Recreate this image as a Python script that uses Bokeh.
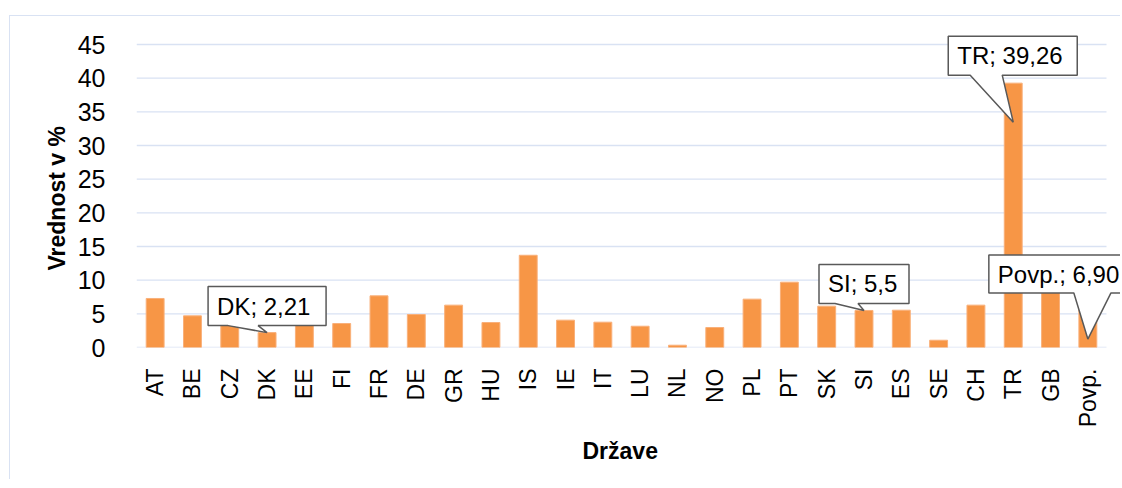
import math
from bokeh.plotting import figure
from bokeh.models import Range1d, FixedTicker, Title
from bokeh.core.properties import value
from bokeh.embed import file_html
from bokeh.resources import INLINE

# ---------------- data ----------------
countries = ["AT", "BE", "CZ", "DK", "EE", "FI", "FR", "DE", "GR", "HU", "IS", "IE", "IT",
             "LU", "NL", "NO", "PL", "PT", "SK", "SI", "ES", "SE", "CH", "TR", "GB", "Povp."]
values = [7.28, 4.70, 3.80, 2.21, 3.70, 3.56, 7.67, 4.90, 6.29, 3.71, 13.70, 4.06, 3.76,
          3.16, 0.34, 2.97, 7.18, 9.70, 6.14, 5.50, 5.54, 1.08, 6.29, 39.26, 10.00, 6.90]
y_ticks = [0, 5, 10, 15, 20, 25, 30, 35, 40, 45]
callout_cats = ["DK", "SI", "TR", "Povp."]
callout_texts = ["DK; 2,21", "SI; 5,5", "TR; 39,26", "Povp.; 6,90"]
x_title = "Države"
y_title = "Vrednost v %"

# ---------------- layout (pixels) ----------------
FONT = "Liberation Sans"
W, H = 1111, 464
LEFT, BOTTOM = 126, 133
FRAME_W, FRAME_H = W - LEFT, H - BOTTOM
PX_X = 970 / len(countries)      # px per category
PX_Y = 303 / 45.0                # px per unit
GRID = "#D9E2F3"
BAR = "#F79646"

# callout geometry: box left, right, top, bottom; pointer base x1, x2; tip dx, dy (px, y down, rel. to bar top)
callout_geom = [
    (-59, 59, -46, -7, -39, -9, 0, 0),
    (-45, 45, -46, -7, -29, -6, 0, 0),
    (-65, 64, -47, -8, -43, -11, 0, 39),
    (-99, 60, -46, -8, -14, 23, 0, 38),
]

x_end = FRAME_W / PX_X
y_end = FRAME_H / PX_Y

p = figure(width=W, height=H, output_backend="svg", toolbar_location=None,
           x_range=Range1d(0, x_end), y_range=Range1d(0, y_end),
           min_border_left=LEFT, min_border_right=0, min_border_top=0,
           min_border_bottom=BOTTOM)
p.styles = {"margin-left": "9px", "margin-top": "15px",
            "border-left": "1px solid #D9E2F3", "border-top": "1px solid #D9E2F3"}
p.outline_line_color = None
p.xgrid.visible = False
p.ygrid.visible = False
p.background_fill_color = "white"
p.border_fill_color = "white"

xs = [i + 0.5 for i in range(len(countries))]
n = len(countries)

# gridlines (stop at end of the categories)
p.segment(x0=[0] * len(y_ticks), x1=[n] * len(y_ticks), y0=y_ticks, y1=y_ticks,
          line_color=GRID, line_width=1.3)

# bars
p.vbar(x=xs, top=values, width=0.48, fill_color=BAR, line_color="#F9B07A", line_width=1)

# axes
p.yaxis.ticker = FixedTicker(ticks=y_ticks)
p.yaxis.axis_line_color = None
p.yaxis.major_tick_line_color = None
p.yaxis.minor_tick_line_color = None
p.yaxis.major_label_standoff = 25
p.yaxis.major_label_text_font = FONT
p.yaxis.major_label_text_font_size = "25px"
p.yaxis.major_label_text_color = "#000000"

p.xaxis.ticker = FixedTicker(ticks=xs)
p.xaxis.major_label_overrides = {x: c for x, c in zip(xs, countries)}
p.xaxis.major_label_orientation = math.pi / 2
p.xaxis.axis_line_color = None
p.xaxis.major_tick_line_color = None
p.xaxis.minor_tick_line_color = None
p.xaxis.major_label_standoff = 15
p.xaxis.major_label_text_font = FONT
p.xaxis.major_label_text_font_size = "23px"
p.xaxis.major_label_text_color = "#000000"

# axis titles
p.add_layout(Title(text=x_title, align="left", offset=446, standoff=10,
                   text_font=FONT, text_font_size="23px", text_font_style="bold",
                   text_color="#000000"), "below")
p.add_layout(Title(text=y_title, align="left", offset=77, standoff=10,
                   text_font=FONT, text_font_size="23px", text_font_style="bold",
                   text_color="#000000"), "left")

# callouts
pxs, pys, tx, ty, tt = [], [], [], [], []
for cat, txt, g in zip(callout_cats, callout_texts, callout_geom):
    i = countries.index(cat)
    cx, cy = xs[i], values[i]
    L, R, T, B, b1, b2, tdx, tdy = g
    fx = lambda d: cx + d / PX_X
    fy = lambda d: cy - d / PX_Y
    pts = [(L, T), (R, T), (R, B), (b2, B), (tdx, tdy), (b1, B), (L, B)]
    pxs.append([fx(a) for a, b in pts])
    pys.append([fy(b) for a, b in pts])
    tx.append(fx(L + 9))
    ty.append(fy((T + B) / 2))
    tt.append(txt)

p.patches(xs=pxs, ys=pys, fill_color="white", line_color="#595959", line_width=1.5)
p.text(x=tx, y=ty, text=tt, text_align="left", text_baseline="middle",
       text_font=value(FONT), text_font_size="24px", text_color="#000000")

open("out.html", "w").write(file_html(p, INLINE))
